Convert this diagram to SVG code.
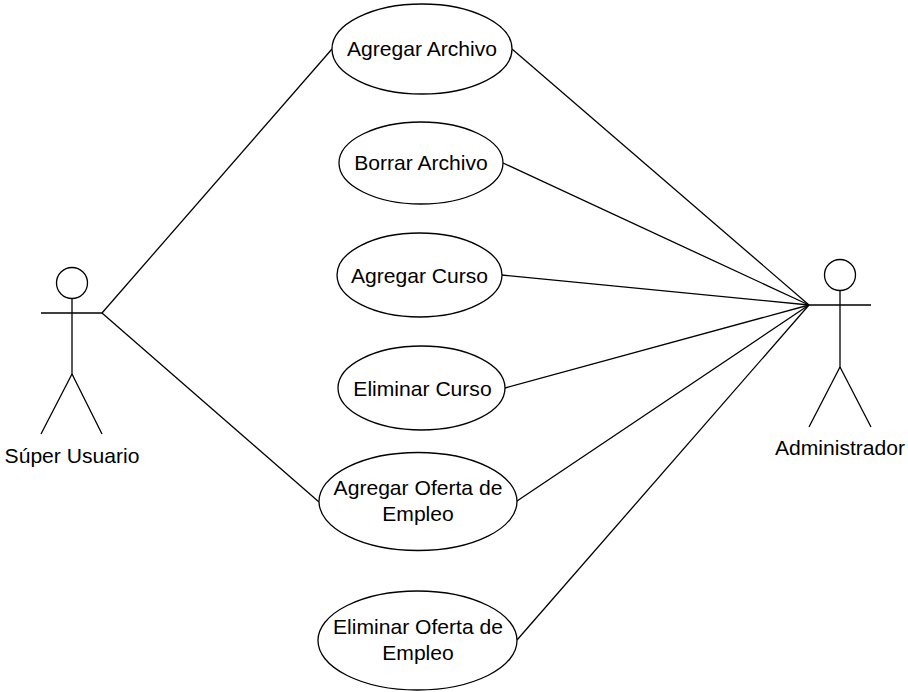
<svg xmlns="http://www.w3.org/2000/svg" width="908" height="692" viewBox="0 0 908 692">
<style>
.n{fill:#fff;stroke:#000;stroke-width:1.3}
.l{fill:none;stroke:#000;stroke-width:1.3}
text{font-family:"Liberation Sans",Arial,sans-serif;font-size:21.1px;fill:#000;text-anchor:middle}
</style>
<rect width="908" height="692" fill="#fff"/>
<g id="connectors">
<path class="l" d="M102 313L332 49"/>
<path class="l" d="M102 313L319 502"/>
<path class="l" d="M512 49L809 305"/>
<path class="l" d="M503 163L809 305"/>
<path class="l" d="M502 275L809 305"/>
<path class="l" d="M505 388L809 305"/>
<path class="l" d="M517 501L809 305"/>
<path class="l" d="M517 640L809 305"/>
</g>
<g id="super-usuario">
<circle class="n" cx="72" cy="283" r="15.5"/>
<path class="l" d="M72 298.500V374M41 313H102M72 374L41 434M72 374L102 434"/>
<text x="72" y="463">Súper Usuario</text>
</g>
<g id="administrador">
<circle class="n" cx="840" cy="275" r="15.5"/>
<path class="l" d="M840 290.500V367M809 305H871M840 367L809 427M840 367L871 427"/>
<text x="840" y="455">Administrador</text>
</g>
<g id="agregar-archivo"><ellipse class="n" cx="422" cy="49" rx="90" ry="45"/><text x="422" y="56">Agregar Archivo</text></g>
<g id="borrar-archivo"><ellipse class="n" cx="421" cy="163" rx="82" ry="41"/><text x="421" y="170">Borrar Archivo</text></g>
<g id="agregar-curso"><ellipse class="n" cx="419.500" cy="275" rx="82.500" ry="42"/><text x="419.500" y="283">Agregar Curso</text></g>
<g id="eliminar-curso"><ellipse class="n" cx="421.500" cy="388" rx="83.500" ry="42"/><text x="422.500" y="396">Eliminar Curso</text></g>
<g id="agregar-oferta"><ellipse class="n" cx="418" cy="501.500" rx="99" ry="49"/><text x="418" y="495">Agregar Oferta de</text><text x="418" y="521">Empleo</text></g>
<g id="eliminar-oferta"><ellipse class="n" cx="417.500" cy="640.500" rx="99.500" ry="49.500"/><text x="418" y="634">Eliminar Oferta de</text><text x="418" y="660">Empleo</text></g>
</svg>
